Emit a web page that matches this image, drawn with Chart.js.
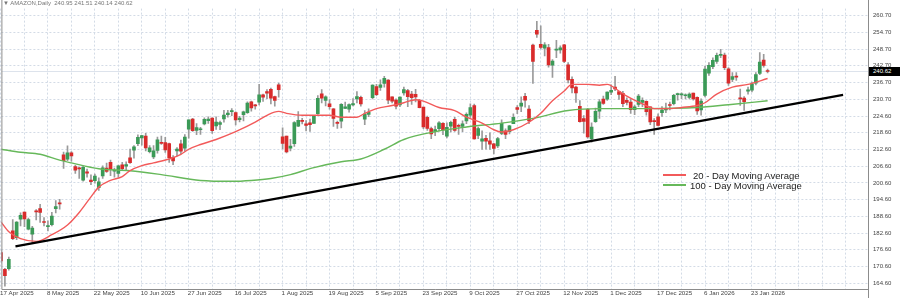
<!DOCTYPE html>
<html><head><meta charset="utf-8">
<script src="https://cdn.jsdelivr.net/npm/chart.js@4.4.1/dist/chart.umd.min.js"></script>
<style>
html,body{margin:0;padding:0;background:#fff;}
#wrap{position:relative;width:900px;height:298px;overflow:hidden;background:#fff;}
#c{position:absolute;left:0;top:0;}
.hdr{position:absolute;left:3px;top:0px;font:6px "Liberation Sans",Arial,sans-serif;line-height:7px;color:#777;white-space:nowrap;}
.leg{position:absolute;font:9.5px "Liberation Sans",Arial,sans-serif;line-height:11px;color:#222;white-space:nowrap;}
.sw{position:absolute;height:2px;width:23px;}
#pbox{position:absolute;left:869px;width:31px;height:9px;background:#000;color:#fff;font:6px "Liberation Sans",Arial,sans-serif;line-height:9px;text-indent:4px;}
</style></head>
<body>
<div id="wrap">
<canvas id="c" width="900" height="298"></canvas>
<div class="hdr">&#9660; AMAZON,Daily&nbsp; 240.95 241.51 240.14 240.62</div>
<div class="sw" style="left:663px;top:174px;background:#f25a5a"></div>
<div class="leg" style="left:693px;top:170px">20 - Day Moving Average</div>
<div class="sw" style="left:663px;top:184px;background:#66b85a"></div>
<div class="leg" style="left:690px;top:180px">100 - Day Moving Average</div>
<div id="pbox"></div>
</div>
<script>
const opens  = [175.6,169.6,169.8,183.4,180.9,187.6,190.1,184.0,182.2,190.6,191.4,186.7,184.9,185.6,191.4,193.4,210.7,209.1,211.4,206.5,206.0,201.6,204.6,201.6,201.4,198.9,203.1,205.9,208.0,204.8,204.0,207.1,206.6,209.6,212.4,214.7,216.8,217.4,211.8,209.9,212.3,215.2,215.1,214.7,209.8,212.1,214.6,213.1,219.9,223.5,219.5,219.7,221.8,223.0,223.9,221.1,221.6,223.6,225.1,226.2,225.9,223.3,225.1,225.8,229.7,228.5,229.6,232.2,233.4,234.2,231.6,235.8,217.2,217.4,213.1,214.7,221.0,223.1,221.8,222.2,222.0,225.5,232.6,230.2,229.0,227.2,222.2,222.8,227.4,227.1,228.6,230.8,231.3,223.5,225.2,231.2,235.2,234.9,236.3,237.5,231.5,230.4,228.6,232.9,233.8,232.5,232.4,230.3,227.8,224.2,220.1,219.1,220.1,222.0,217.4,221.0,223.4,221.0,220.9,222.9,224.9,228.4,217.7,215.6,216.6,215.7,214.6,213.9,218.4,219.3,219.0,221.9,227.7,228.2,231.7,227.1,250.1,255.4,250.4,249.0,249.2,242.9,248.3,248.4,250.2,243.0,237.8,235.0,228.1,223.7,227.0,216.4,222.6,226.4,230.7,230.7,233.2,235.0,233.4,232.8,230.3,229.6,226.9,228.8,229.5,229.9,227.9,223.0,224.3,225.8,226.8,228.6,229.1,232.3,232.2,231.9,231.3,232.9,231.3,226.8,232.0,240.0,242.4,244.2,246.4,246.5,241.6,237.8,238.8,231.2,231.1,233.6,233.9,236.4,239.9,244.7,240.95];
const highs  = [176.6,169.9,174.0,187.4,186.7,189.9,190.2,188.0,185.0,191.0,192.9,188.2,187.0,190.0,194.3,194.7,211.7,213.9,211.9,206.9,206.3,206.6,205.6,203.5,203.8,202.4,206.7,207.7,208.8,205.9,207.0,208.0,208.2,212.8,214.0,217.9,217.7,218.4,214.0,214.0,217.1,217.4,217.0,214.9,210.4,213.3,216.0,218.0,223.3,223.8,221.9,220.6,224.0,224.3,224.0,224.3,222.8,226.7,226.7,227.3,226.1,224.5,226.4,229.7,230.0,228.8,236.0,232.5,234.1,234.7,231.8,236.5,220.4,217.4,216.3,222.6,226.2,223.8,223.0,223.5,224.9,232.0,234.1,231.9,230.5,227.3,222.8,229.1,229.6,229.0,230.9,233.4,231.8,226.6,227.2,235.8,236.0,237.6,238.9,237.7,231.5,230.8,231.5,235.0,234.2,233.5,234.2,230.6,227.8,224.6,220.7,221.0,222.6,222.3,222.2,222.8,224.2,221.7,222.9,225.8,229.0,228.9,220.7,219.3,217.7,218.6,214.8,217.0,223.3,220.0,221.3,225.4,228.4,231.5,232.8,228.4,250.5,258.6,257.0,251.0,250.4,244.9,251.8,249.8,250.4,243.8,238.7,235.4,230.2,224.8,227.4,222.2,227.5,230.5,231.8,233.3,235.8,238.9,233.4,233.5,231.2,230.8,228.6,232.4,231.2,230.1,227.9,223.7,225.4,228.0,229.3,229.6,232.4,232.9,233.0,232.6,233.0,232.9,231.5,230.8,242.6,243.8,245.5,247.2,248.6,247.2,242.0,240.2,240.2,234.3,231.6,235.0,236.8,240.2,247.4,246.8,241.51];
const lows   = [171.8,163.5,169.3,180.2,180.2,185.2,184.9,183.7,178.9,187.3,186.4,185.2,183.4,185.2,189.8,191.2,205.8,208.6,208.4,204.0,202.2,201.2,202.7,200.0,200.5,197.9,202.2,204.4,203.2,202.7,202.7,205.0,205.2,207.6,209.5,214.0,214.2,212.1,211.4,209.3,211.3,214.4,211.6,208.0,207.2,210.3,211.1,212.0,216.7,219.1,217.9,218.0,221.4,222.0,218.4,219.8,219.7,222.4,224.2,224.8,221.4,222.5,222.9,225.6,226.4,227.1,228.6,229.9,230.9,229.0,228.2,231.4,212.8,211.4,212.1,213.7,220.8,221.8,219.3,219.1,222.0,225.2,229.3,228.3,227.1,220.9,220.2,220.4,227.3,226.0,228.3,229.3,228.2,221.5,224.4,230.8,231.9,233.8,235.0,229.1,229.3,227.2,228.0,232.1,228.0,228.8,229.7,227.5,220.1,219.5,216.5,217.6,219.3,217.9,216.8,218.9,219.1,218.0,219.0,221.9,224.1,216.3,216.5,212.6,212.7,212.6,211.0,213.3,217.9,216.5,218.2,221.9,225.5,226.2,227.8,221.9,236.3,252.9,248.7,246.2,242.2,238.5,245.6,247.2,243.8,236.5,232.9,229.5,222.4,218.5,216.7,215.2,222.3,223.8,228.8,230.2,232.3,233.7,230.6,228.0,228.6,225.6,225.1,228.0,228.0,224.9,221.5,218.0,221.1,224.5,225.8,226.8,228.6,230.3,230.9,230.8,230.8,230.3,225.2,224.9,231.5,239.2,241.6,243.5,245.6,241.3,235.6,237.0,237.4,228.4,226.6,232.5,233.3,235.8,239.5,242.2,240.14];
const closes = [172.6,167.3,173.2,180.6,186.5,189.0,187.7,187.4,184.4,190.2,190.0,186.4,185.0,188.7,192.1,193.1,208.6,211.4,210.3,205.2,205.6,206.2,204.1,201.1,203.1,201.0,206.0,204.7,205.7,205.0,206.7,205.7,207.2,207.9,213.6,217.0,217.6,213.2,213.2,212.1,216.1,214.8,212.5,209.7,208.5,212.8,212.0,217.1,223.3,219.4,220.5,219.9,223.4,223.5,219.4,222.5,222.3,225.0,225.7,226.4,223.2,223.9,226.1,229.3,227.5,228.3,232.2,231.4,232.8,231.0,230.2,234.1,214.8,211.7,213.8,222.3,223.1,222.7,221.3,221.5,224.6,231.0,231.0,231.5,228.0,223.8,222.0,228.8,227.9,228.7,229.1,231.6,229.0,225.3,226.0,235.7,232.3,235.8,238.2,230.3,230.0,228.2,231.4,234.1,231.6,231.2,231.5,227.6,220.7,220.2,218.2,219.8,222.2,219.6,220.6,222.4,219.5,220.9,221.8,225.2,227.7,216.4,220.1,216.4,215.6,214.5,213.0,216.5,222.0,218.0,221.1,224.2,227.0,229.3,230.3,222.9,244.2,254.0,249.3,250.2,243.0,244.4,248.4,249.1,244.2,237.6,234.7,232.9,222.6,222.7,217.1,220.7,226.3,229.7,229.2,233.2,233.9,234.4,232.4,229.1,229.5,226.9,227.9,231.8,230.3,226.2,222.5,222.6,221.3,226.8,227.4,228.4,232.1,232.4,232.5,232.1,232.5,230.8,226.5,230.0,241.5,242.8,244.6,246.4,246.8,242.0,236.4,238.8,238.6,230.8,229.8,234.0,236.2,239.5,244.0,242.8,240.62];

const ma20Bars = [0,2,5,9,13,17,20,23,25,28,31,33,36,39,43,46,48,51,55,60,65,68,71,73,77,80,84,87,91,93,96,100,103,106,108,112,116,119,123,126,128,131,135,138,141,144,146,150,153,155,158,160,165,167,171,174,178,180,183,187,191,196];
const ma20Vals = [186.6,183.1,180.6,179.6,182.0,185.5,190.0,195.6,199.1,201.5,202.9,205.0,206.8,207.8,209.2,210.9,212.7,214.4,216.2,219.0,222.4,224.9,226.3,225.6,224.9,224.9,224.9,224.2,224.2,225.6,227.3,228.4,229.4,230.5,230.0,227.7,226.6,224.2,222.1,219.7,218.9,219.7,222.4,225.6,230.1,233.6,236.0,236.0,235.7,236.0,233.6,231.8,228.4,227.3,227.3,227.7,228.4,229.4,232.5,235.0,236.0,238.1];
const ma100Bars = [0,5,10,15,18,25,33,41,51,59,64,69,74,80,87,92,98,103,111,119,128,136,145,153,165,178,186,196];
const ma100Vals = [212.7,211.6,210.9,208.8,207.8,205.7,205.0,203.6,201.5,201.2,201.5,202.2,203.6,206.1,208.2,209.2,212.7,216.2,219.0,220.7,222.1,223.8,226.6,227.3,227.3,227.7,228.7,230.1];
const trendBars = [3.7, 215.3];
const trendVals = [177.8, 232.2];

const xTickDates = ['17 Apr 2025','8 May 2025','22 May 2025','10 Jun 2025','27 Jun 2025','16 Jul 2025','1 Aug 2025','19 Aug 2025','5 Sep 2025','23 Sep 2025','9 Oct 2025','27 Oct 2025','12 Nov 2025','1 Dec 2025','17 Dec 2025','6 Jan 2026','23 Jan 2026'];
const xTickBars  = [0,12,24,36,48,60,72,84,96,108,120,132,144,156,168,180,192];
const yTickLabels = ['164.60','170.60','176.60','182.60','188.60','194.60','200.60','206.60','212.60','218.60','224.60','230.70','236.70','242.70','248.70','254.70','260.70'];

const BULL = '#3b9a57', BEAR = '#d92b2b', WICK = '#9a9a9a';
const RED = '#f25a5a', GREEN = '#66b85a', GRID = '#d3dbe6';
const FAMILY = '"Liberation Sans", Arial, sans-serif';
const X_MIN = 0.1, X_MAX = 221.67, Y_MIN = 162.51, Y_MAX = 263.21;

const pts = (xs, ys) => xs.map((x, i) => ({x: x, y: ys[i]}));
const bodyData = opens.map((o, i) => ({x: i, y: [o, closes[i]]}));
const wickData = lows.map((l, i) => ({x: i, y: [l, highs[i]]}));
const bodyColors = opens.map((o, i) => closes[i] > o ? BULL : (closes[i] < o ? BEAR : WICK));
const lastClose = closes[closes.length - 1];
const gridBars = [];
for (let v = 0; v <= X_MAX; v += 6) gridBars.push(v);

const frame = {
  id: 'frame',
  afterDraw(chart) {
    const {ctx, chartArea: a} = chart;
    ctx.save();
    ctx.strokeStyle = '#8c8c8c';
    ctx.lineWidth = 1;
    ctx.beginPath();
    ctx.moveTo(a.left + 0.5, 0); ctx.lineTo(a.left + 0.5, a.bottom + 0.5);
    ctx.lineTo(a.right + 0.5, a.bottom + 0.5);
    ctx.moveTo(a.right + 0.5, 0); ctx.lineTo(a.right + 0.5, chart.height);
    ctx.stroke();
    ctx.restore();
  }
};

const chart = new Chart(document.getElementById('c'), {
  type: 'bar',
  data: {
    datasets: [
      {type: 'line', data: pts(trendBars, trendVals), borderColor: '#000', borderWidth: 2.2, pointRadius: 0, order: 0},
      {type: 'line', data: pts(ma20Bars, ma20Vals), borderColor: RED, borderWidth: 1.4, pointRadius: 0, cubicInterpolationMode: 'monotone', order: 1},
      {type: 'line', data: pts(ma100Bars, ma100Vals), borderColor: GREEN, borderWidth: 1.4, pointRadius: 0, cubicInterpolationMode: 'monotone', order: 2},
      {type: 'bar', data: bodyData, backgroundColor: bodyColors, borderWidth: 0, barThickness: 3, minBarLength: 1, grouped: false, order: 3},
      {type: 'bar', data: wickData, backgroundColor: WICK, borderWidth: 0, barThickness: 1, grouped: false, order: 4},
      {type: 'line', data: [{x: X_MIN, y: lastClose}, {x: X_MAX, y: lastClose}], borderColor: '#dde3ec', borderWidth: 1, pointRadius: 0, order: 5}
    ]
  },
  options: {
    responsive: false,
    animation: false,
    devicePixelRatio: 1,
    layout: {padding: {left: 1, top: 0, right: 0, bottom: 0}},
    plugins: {legend: {display: false}, tooltip: {enabled: false}},
    scales: {
      x: {
        type: 'linear', min: X_MIN, max: X_MAX, offset: false,
        afterBuildTicks: s => { s.ticks = gridBars.map(v => ({value: v})); },
        afterFit: s => { s.height = 9; },
        ticks: {autoSkip: false, maxRotation: 0, minRotation: 0, align: 'start', labelOffset: -1, padding: 1,
          font: {size: 6.2, family: FAMILY}, color: '#444',
          callback: v => { const k = xTickBars.indexOf(v); return k >= 0 ? xTickDates[k] : ''; }},
        grid: {color: GRID, lineWidth: 1, drawTicks: false, offset: false},
        border: {display: false, dash: [2, 2]}
      },
      y: {
        type: 'linear', position: 'right', min: Y_MIN, max: Y_MAX,
        afterBuildTicks: s => { s.ticks = yTickLabels.map(l => ({value: parseFloat(l)})); },
        afterFit: s => { s.width = 32; },
        ticks: {autoSkip: false, padding: 5, font: {size: 6, family: FAMILY}, color: '#444',
          callback: (v, i) => yTickLabels[i]},
        grid: {color: GRID, lineWidth: 1, drawTicks: false},
        border: {display: false, dash: [2, 2]}
      }
    }
  },
  plugins: [frame]
});

const pb = document.getElementById('pbox');
pb.textContent = lastClose.toFixed(2);
pb.style.top = (chart.scales.y.getPixelForValue(lastClose) - 4.5) + 'px';
</script>
</body></html>
